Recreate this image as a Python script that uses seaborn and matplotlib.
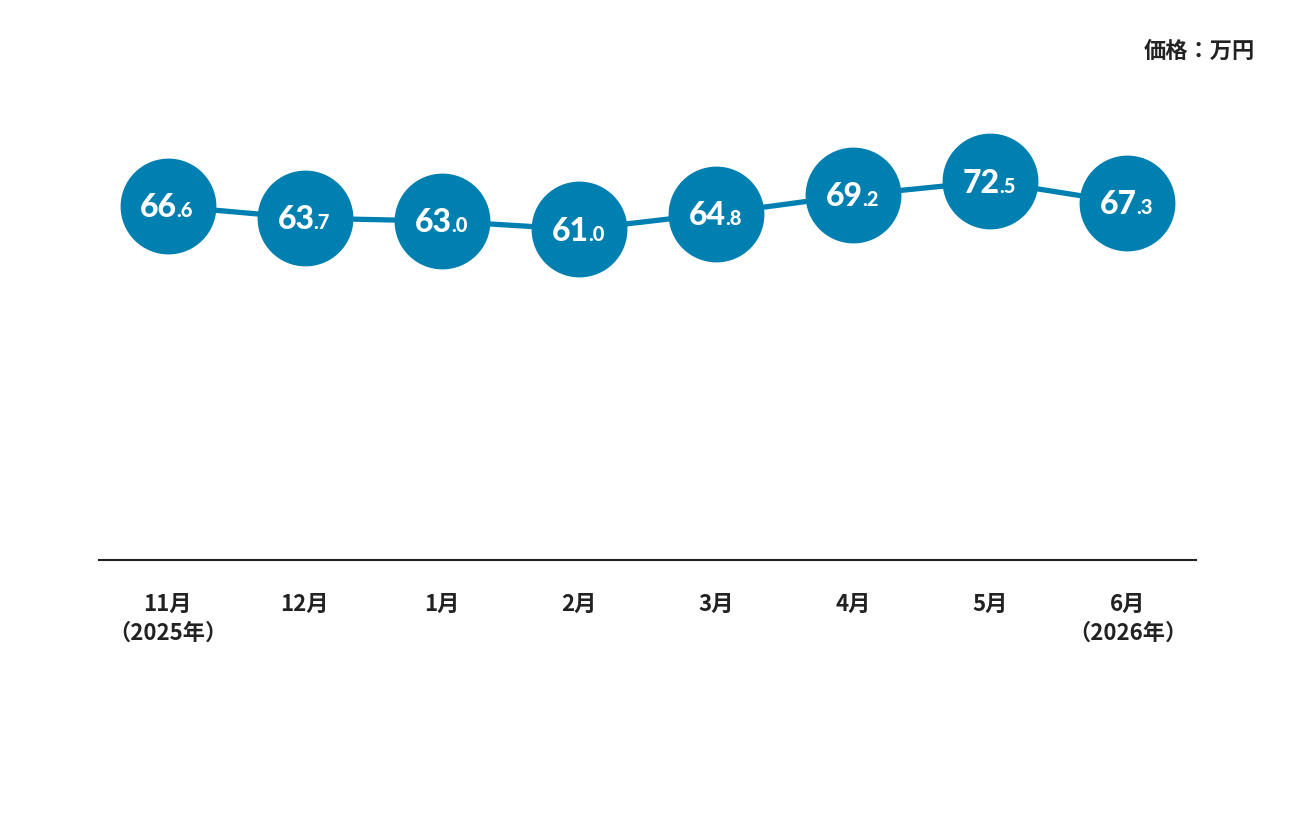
import pandas as pd
import matplotlib
matplotlib.use("Agg")
import matplotlib.pyplot as plt
import seaborn as sns

# データ
months = ["11月\n（2025年）", "12月", "1月", "2月", "3月", "4月", "5月", "6月\n（2026年）"]
prices = [66.6, 63.7, 63.0, 61.0, 64.8, 69.2, 72.5, 67.3]
unit_label = "価格：万円"

BLUE = "#007fb1"

sns.set_theme(style="white")
plt.rcParams["font.family"] = ["Noto Sans CJK JP", "DejaVu Sans"]

df = pd.DataFrame({"pos": range(len(prices)), "price": prices})

fig = plt.figure(figsize=(12.96, 8.16), dpi=100)
ax = fig.add_axes([99 / 1296, 1 - 560 / 816, 1097 / 1296, 460 / 816])

sns.lineplot(data=df, x="pos", y="price", color=BLUE, linewidth=3.8, ax=ax, zorder=1)
sns.scatterplot(data=df, x="pos", y="price", color=BLUE, s=4760, linewidth=0, ax=ax, zorder=2)

# 円の中の数値（整数部は大きく、小数部は小さく）
for i, v in enumerate(prices):
    whole, dec = f"{v:.1f}".split(".")
    ax.annotate(whole, (i, v), xytext=(7, -8), textcoords="offset points",
                ha="right", va="baseline", color="white", fontsize=23,
                fontweight="black", family="Lato", zorder=3)
    ax.annotate("." + dec, (i, v), xytext=(6.5, -8), textcoords="offset points",
                ha="left", va="baseline", color="white", fontsize=14.5,
                fontweight="black", family="Lato", zorder=3)

ax.set_xlim(-0.5, len(prices) - 0.5)
ax.set_ylim(-18.2, 92)
ax.set_xticks(range(len(prices)))
ax.set_xticklabels(months, fontsize=16, fontweight="bold", color="#222222", linespacing=1.3)
ax.tick_params(axis="x", length=0, pad=24)
ax.set_yticks([])
ax.set_xlabel("")
ax.set_ylabel("")

for side in ["top", "left", "right"]:
    ax.spines[side].set_visible(False)
ax.spines["bottom"].set_color("#222222")
ax.spines["bottom"].set_linewidth(1.5)

fig.text(1255 / 1296, 1 - 51 / 816, unit_label, ha="right", va="center",
         fontsize=16, fontweight="bold", color="#222222")

fig.savefig("out.png", dpi=100, facecolor="white")
